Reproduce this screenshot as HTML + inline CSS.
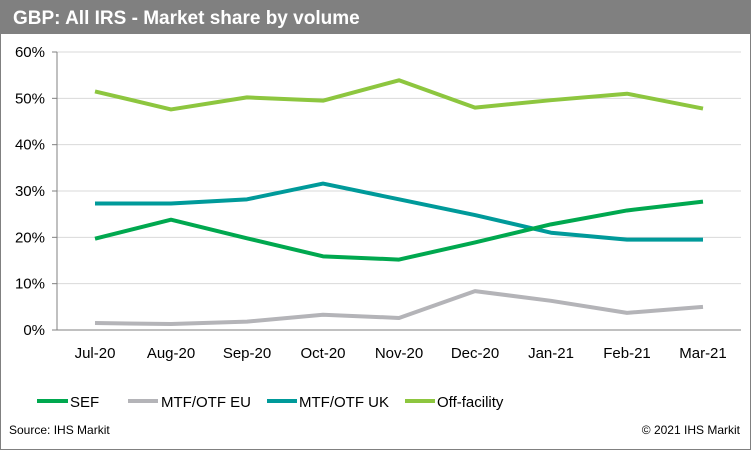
<!DOCTYPE html>
<html><head><meta charset="utf-8"><style>
html,body{margin:0;padding:0;background:#fff}
body{width:751px;height:450px;overflow:hidden;font-family:"Liberation Sans",Arial,sans-serif}
</style></head><body>
<svg id="chart" width="751" height="450" xmlns="http://www.w3.org/2000/svg" font-family="Liberation Sans, Arial, sans-serif">
<rect x="0.5" y="0.5" width="750" height="449" fill="#fff" stroke="#808080"/>
<rect x="0" y="0" width="751" height="34" fill="#808080"/>
<text x="13" y="24" font-size="19" font-weight="bold" fill="#fff">GBP: All IRS - Market share by volume</text>
<g id="grid"></g><g id="axes"></g><g id="series"></g>
<g font-size="15" fill="#000">
<line x1="37" y1="401" x2="68" y2="401" stroke="#00a84f" stroke-width="4"/>
<text x="70" y="407">SEF</text>
<line x1="128" y1="401" x2="158" y2="401" stroke="#b4b4b8" stroke-width="4"/>
<text x="161" y="407">MTF/OTF EU</text>
<line x1="267" y1="401" x2="297" y2="401" stroke="#009a9a" stroke-width="4"/>
<text x="299" y="407">MTF/OTF UK</text>
<line x1="405" y1="401" x2="435" y2="401" stroke="#8dc63f" stroke-width="4"/>
<text x="437" y="407">Off-facility</text>
</g>
<text x="9" y="434" font-size="12">Source: IHS Markit</text>
<text x="740" y="434" font-size="12" text-anchor="end">© 2021 IHS Markit</text>
</svg>
<script>
const categories=["Jul-20","Aug-20","Sep-20","Oct-20","Nov-20","Dec-20","Jan-21","Feb-21","Mar-21"];
const yTicks=[0,10,20,30,40,50,60];
const offFacility=[51.5,47.6,50.2,49.5,53.9,48.0,49.6,51.0,47.8];
const mtfUK=[27.3,27.3,28.2,31.6,28.2,24.8,21.0,19.5,19.5];
const sef=[19.7,23.8,19.8,15.9,15.2,18.9,22.8,25.8,27.7];
const mtfEU=[1.5,1.3,1.8,3.3,2.6,8.4,6.3,3.7,5.0];

const NS="http://www.w3.org/2000/svg";
const plotLeft=57,plotRight=741,plotTop=52,plotBottom=330;
const step=(plotRight-plotLeft)/categories.length;
const xPos=i=>plotLeft+step*(i+0.5);
const yPos=v=>plotBottom-(v/60)*(plotBottom-plotTop);
function mk(tag,parent,attrs){const e=document.createElementNS(NS,tag);for(const k in attrs)e.setAttribute(k,attrs[k]);parent.appendChild(e);return e;}
const gridG=document.getElementById('grid'),axesG=document.getElementById('axes'),serG=document.getElementById('series');
yTicks.forEach(t=>{
  if(t>0){const g=mk('line',gridG,{x1:plotLeft,x2:plotRight,y1:yPos(t),y2:yPos(t),stroke:'#d9d9d9','stroke-width':1});
  
  }
  const tk=mk('line',axesG,{x1:plotLeft-5,x2:plotLeft,y1:yPos(t),y2:yPos(t),stroke:'#808080'});
  
  
  const lb=mk('text',axesG,{x:plotLeft-12,y:yPos(t)+5,'font-size':15,'text-anchor':'end',fill:'#000'});
  lb.textContent=t+'%';
  
  
});
const ya=mk('line',axesG,{x1:plotLeft,x2:plotLeft,y1:plotTop,y2:plotBottom,stroke:'#808080'});


const xa=mk('line',axesG,{x1:plotLeft,x2:plotRight,y1:plotBottom,y2:plotBottom,stroke:'#808080'});


categories.forEach((c,i)=>{
  const lb=mk('text',axesG,{x:xPos(i),y:plotBottom+28,'font-size':15,'text-anchor':'middle',fill:'#000'});
  lb.textContent=c;
  
  
});
[[offFacility,'#8dc63f','line-off-facility'],[mtfUK,'#009a9a','line-mtf-uk'],[sef,'#00a84f','line-sef'],[mtfEU,'#b4b4b8','line-mtf-eu']].forEach(([d,col,name])=>{
  const p=mk('polyline',serG,{points:d.map((v,i)=>xPos(i)+','+yPos(v)).join(' '),fill:'none',stroke:col,'stroke-width':4,'stroke-linejoin':'round'});
  
  
});
</script>
</body></html>
